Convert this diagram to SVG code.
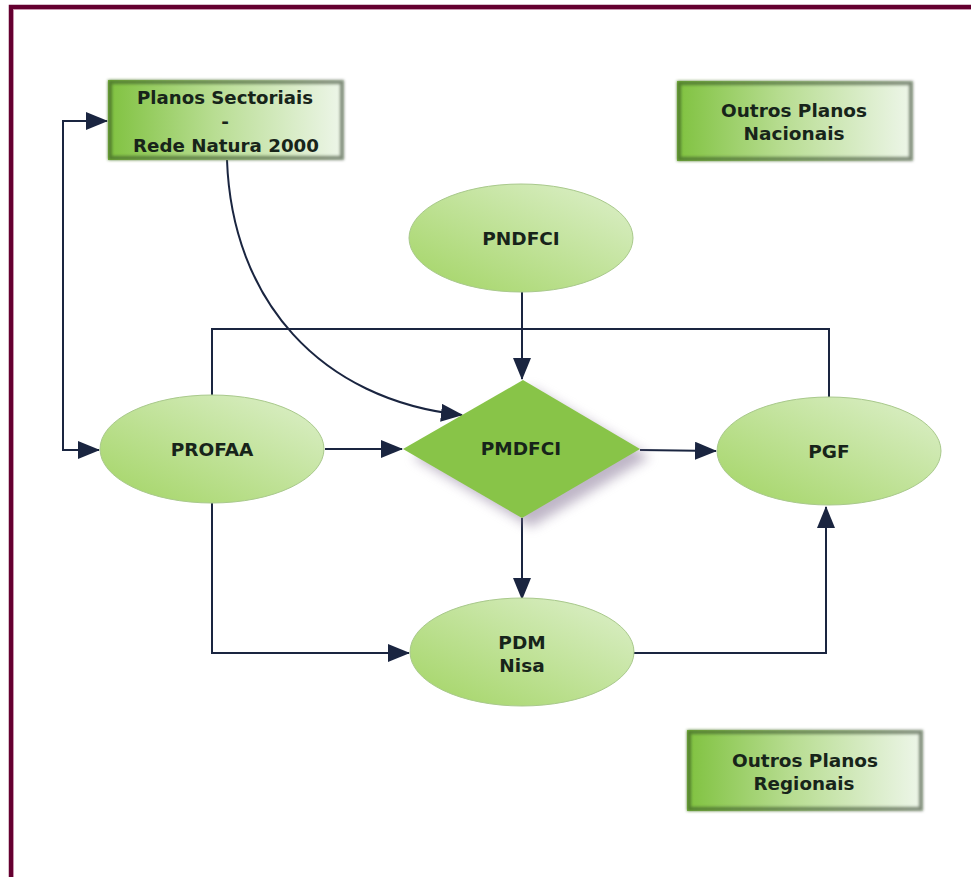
<svg xmlns="http://www.w3.org/2000/svg" width="971" height="877" viewBox="0 0 971 877">
<defs>
<style>
.lbl{font-family:"DejaVu Sans",Verdana,sans-serif;font-weight:bold;font-size:18.5px;fill:#17241a;text-anchor:middle}
.ell{fill:url(#ellG);stroke:#a9c98c;stroke-width:1}
.box{fill:url(#boxG)}
.rim{fill:none;stroke:url(#rimG);stroke-width:4}
.con{fill:none;stroke:#1a2540;stroke-width:2}
</style>
<linearGradient id="ellG" x1="0" y1="1" x2="1" y2="0">
<stop offset="0" stop-color="#a2d463"/>
<stop offset="1" stop-color="#def0cc"/>
</linearGradient>
<linearGradient id="boxG" x1="0" y1="0" x2="1" y2="0">
<stop offset="0" stop-color="#80c240"/>
<stop offset="0.45" stop-color="#b8dd92"/>
<stop offset="1" stop-color="#eef6ea"/>
</linearGradient>
<linearGradient id="rimG" x1="0" y1="0" x2="1" y2="0">
<stop offset="0" stop-color="#527f2e"/>
<stop offset="1" stop-color="#7e8a78"/>
</linearGradient>
<filter id="soft" x="-10%" y="-10%" width="120%" height="120%">
<feGaussianBlur stdDeviation="1.5"/>
</filter>
<filter id="shad" x="-20%" y="-20%" width="150%" height="150%">
<feGaussianBlur stdDeviation="6"/>
</filter>
<marker id="arr" markerUnits="userSpaceOnUse" markerWidth="22" markerHeight="18" refX="21" refY="9" orient="auto">
<path d="M0,0 L22,9 L0,18 Z" fill="#1a2540"/>
</marker>
</defs>
<rect width="971" height="877" fill="#ffffff"/>
<path d="M11,877 L11,7 L971,7" fill="none" stroke="#650030" stroke-width="4.5"/>
<path d="M13.5,877 L13.5,9.5 L971,9.5" fill="none" stroke="#c48aa5" stroke-width="0.8"/>

<g id="connectors">
<path class="con" d="M522,292 L522,379" marker-end="url(#arr)"/>
<path class="con" d="M227,160 C232,300 320,400 462,415" marker-end="url(#arr)"/>
<path class="con" d="M63,449 L63,121 L107,121" marker-end="url(#arr)"/>
<path class="con" d="M63,300 L63,450 L99,450" marker-end="url(#arr)"/>
<path class="con" d="M325,449 L402,449" marker-end="url(#arr)"/>
<path class="con" d="M640,450 L716,451" marker-end="url(#arr)"/>
<path class="con" d="M212,395 L212,329 L829,329 L829,397"/>
<path class="con" d="M522,518 L522,599" marker-end="url(#arr)"/>
<path class="con" d="M212,503 L212,653 L409,653" marker-end="url(#arr)"/>
<path class="con" d="M633,653 L826,653 L826,507" marker-end="url(#arr)"/>
</g>

<g id="planos-sectoriais">
<rect class="box" x="108" y="80" width="236" height="80"/>
<rect class="rim" x="110" y="82" width="232" height="76" filter="url(#soft)"/>
<text class="lbl" x="225" y="104" textLength="176" lengthAdjust="spacingAndGlyphs">Planos Sectoriais</text>
<text class="lbl" x="225" y="128">-</text>
<text class="lbl" x="226" y="152" textLength="186" lengthAdjust="spacingAndGlyphs">Rede Natura 2000</text>
</g>

<g id="outros-nacionais">
<rect class="box" x="677" y="81" width="236" height="80"/>
<rect class="rim" x="679" y="83" width="232" height="76" filter="url(#soft)"/>
<text class="lbl" x="794" y="117" textLength="146" lengthAdjust="spacingAndGlyphs">Outros Planos</text>
<text class="lbl" x="794" y="140" textLength="101" lengthAdjust="spacingAndGlyphs">Nacionais</text>
</g>

<g id="outros-regionais">
<rect class="box" x="687" y="730" width="236" height="81"/>
<rect class="rim" x="689" y="732" width="232" height="77" filter="url(#soft)"/>
<text class="lbl" x="805" y="767" textLength="146" lengthAdjust="spacingAndGlyphs">Outros Planos</text>
<text class="lbl" x="804" y="790" textLength="101" lengthAdjust="spacingAndGlyphs">Regionais</text>
</g>

<g id="pndfci">
<ellipse class="ell" cx="521" cy="238" rx="112" ry="54"/>
<text class="lbl" x="521" y="245">PNDFCI</text>
</g>

<g id="pmdfci">
<path d="M531,388 L650,457 L531,527 L413,457 Z" fill="#8a7a9a" opacity="0.55" filter="url(#shad)"/>
<path d="M523,380 L640,449 L522,518 L403,449 Z" fill="#88c448"/>
<text class="lbl" x="521" y="455">PMDFCI</text>
</g>

<g id="profaa">
<ellipse class="ell" cx="212" cy="449" rx="112" ry="54"/>
<text class="lbl" x="212" y="456">PROFAA</text>
</g>

<g id="pgf">
<ellipse class="ell" cx="829" cy="451" rx="112" ry="54"/>
<text class="lbl" x="829" y="458">PGF</text>
</g>

<g id="pdm">
<ellipse class="ell" cx="522" cy="652" rx="112" ry="54"/>
<text class="lbl" x="522" y="649">PDM</text>
<text class="lbl" x="522" y="672">Nisa</text>
</g>
</svg>
